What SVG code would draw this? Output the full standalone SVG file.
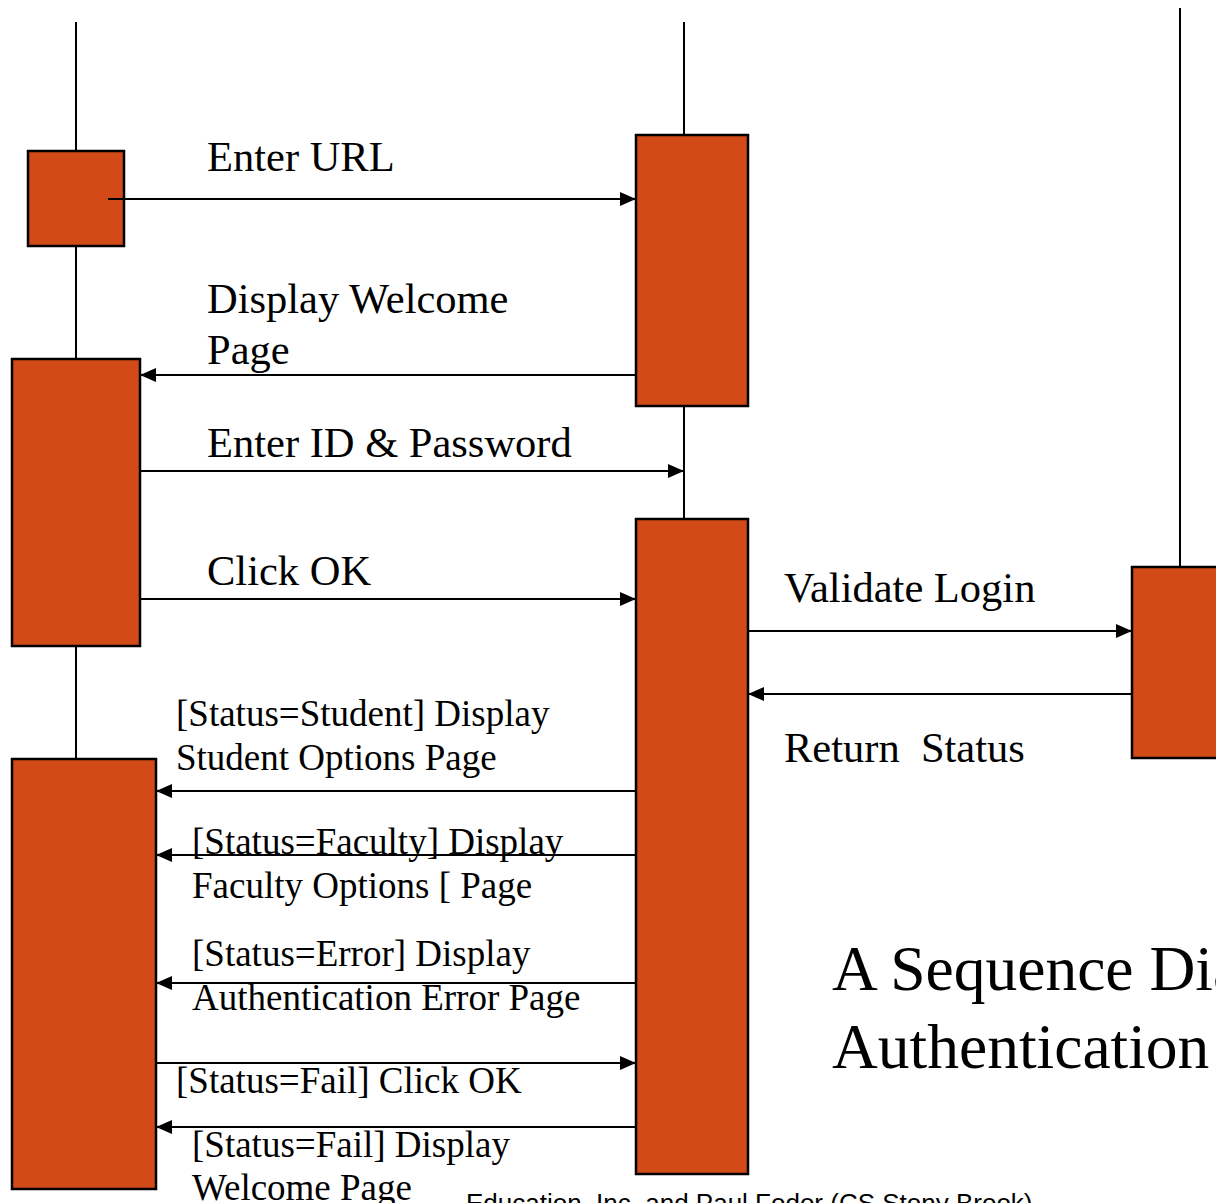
<svg xmlns="http://www.w3.org/2000/svg" width="1216" height="1203" viewBox="0 0 1216 1203">
<style>
.box{fill:#D24A18;stroke:#000;stroke-width:2.5}
.life{stroke:#000;stroke-width:2;fill:none}
.msg{stroke:#000;stroke-width:2;fill:none;marker-end:url(#ah)}
.t{font-family:"Liberation Serif","Times New Roman",serif;fill:#000}
.big{font-size:42.5px}
.med{font-size:37px}
.title{font-size:63.5px}
.foot{font-family:"Liberation Sans",Arial,sans-serif;font-size:26px;fill:#000}
</style>
<defs>
<marker id="ah" markerUnits="userSpaceOnUse" markerWidth="18" markerHeight="16" refX="16" refY="8" orient="auto">
<path d="M0,1 L16,8 L0,15 Z" fill="#000"/>
</marker>
</defs>
<rect width="1216" height="1203" fill="#fff"/>
<g id="lifelines">
<line class="life" x1="76" y1="22" x2="76" y2="759"/>
<line class="life" x1="684" y1="22" x2="684" y2="519"/>
<line class="life" x1="1180" y1="8" x2="1180" y2="567"/>
</g>
<g id="actA"><rect class="box" x="28" y="151" width="96" height="95"/></g>
<g id="actB"><rect class="box" x="636" y="135" width="112" height="271"/></g>
<g id="actC"><rect class="box" x="12" y="359" width="128" height="287"/></g>
<g id="actD"><rect class="box" x="636" y="519" width="112" height="655"/></g>
<g id="actE"><rect class="box" x="1132" y="567" width="90" height="191"/></g>
<g id="actF"><rect class="box" x="12" y="759" width="144" height="430"/></g>
<g id="connectors">
<line class="msg" x1="108" y1="199" x2="636" y2="199"/>
<line class="msg" x1="636" y1="375" x2="140" y2="375"/>
<line class="msg" x1="140" y1="471" x2="684" y2="471"/>
<line class="msg" x1="140" y1="599" x2="636" y2="599"/>
<line class="msg" x1="748" y1="631" x2="1132" y2="631"/>
<line class="msg" x1="1132" y1="694" x2="748" y2="694"/>
<line class="msg" x1="636" y1="791" x2="156" y2="791"/>
<line class="msg" x1="636" y1="855" x2="156" y2="855"/>
<line class="msg" x1="636" y1="983" x2="156" y2="983"/>
<line class="msg" x1="156" y1="1063" x2="636" y2="1063"/>
<line class="msg" x1="636" y1="1127" x2="156" y2="1127"/>
</g>
<g id="labels">
<text class="t big" x="207" y="171">Enter URL</text>
<text class="t big" x="207" y="313">Display Welcome</text>
<text class="t big" x="207" y="364">Page</text>
<text class="t big" x="207" y="457">Enter ID &amp; Password</text>
<text class="t big" x="207" y="585">Click OK</text>
<text class="t big" x="784" y="602">Validate Login</text>
<text class="t big" x="784" y="762" xml:space="preserve">Return  Status</text>
<text class="t med" x="176" y="726">[Status=Student] Display</text>
<text class="t med" x="176" y="770">Student Options Page</text>
<text class="t med" x="192" y="854">[Status=Faculty] Display</text>
<text class="t med" x="192" y="898">Faculty Options [ Page</text>
<text class="t med" x="192" y="966">[Status=Error] Display</text>
<text class="t med" x="192" y="1010">Authentication Error Page</text>
<text class="t med" x="176" y="1093">[Status=Fail] Click OK</text>
<text class="t med" x="192" y="1157">[Status=Fail] Display</text>
<text class="t med" x="192" y="1200">Welcome Page</text>
<text class="t title" x="832" y="990">A Sequence Diagram for</text>
<text class="t title" x="832" y="1068">Authentication</text>
<text class="foot" x="466" y="1212">Education, Inc. and Paul Fodor (CS Stony Brook)</text>
</g>
</svg>
